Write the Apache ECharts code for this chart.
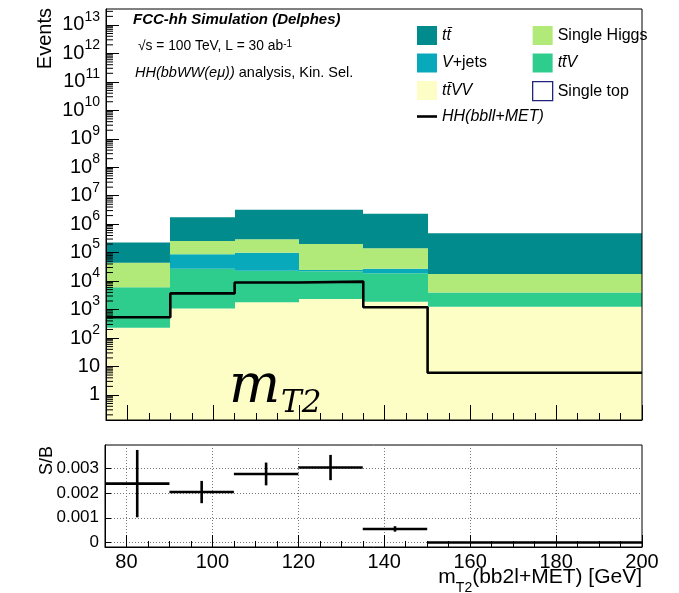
<!DOCTYPE html>
<html><head><meta charset="utf-8">
<script src="https://cdn.jsdelivr.net/npm/echarts@6.0.0/dist/echarts.min.js"></script>
<style>html,body{margin:0;padding:0;background:#fff}#c{width:679px;height:593px}</style>
</head><body><div id="c"></div>
<script>
// ---- data ----
const binEdges = [75, 90, 105, 120, 135, 150, 200];
// stacked backgrounds, bottom to top
const ttVV        = [230, 1100, 1800, 2350, 1900, 1260];
const ttV         = [5900, 25900, 21200, 19700, 17100, 2700];
const singleTop   = [0, 0, 0, 0, 0, 0];
const vJets       = [0, 61000, 77000, 2600, 8000, 0];
const singleHiggs = [38000, 169000, 196000, 175000, 115000, 13800];
const ttbar       = [181000, 1490000, 2900000, 3000000, 2160000, 462000];
const signal      = [540, 3700, 8900, 9600, 1200, 6];
// S/B ratio panel
const ratio    = [0.00238, 0.00204, 0.00277, 0.00303, 0.00055, 0.0];
const ratioErr = [0.00136, 0.00045, 0.00046, 0.00051, 0.00011, 0.0];
const yDecades = [-1,0,1,2,3,4,5,6,7,8,9,10,11,12,13];

const TT = 'tt\u0304';
const procNames  = [TT + 'VV', TT + 'V', 'Single top', 'V+jets', 'Single Higgs', TT];
const procValues = [ttVV, ttV, singleTop, vJets, singleHiggs, ttbar];
const procColors = ['#fdfdc6', '#2fcd8d', '#ffffff', '#07a9bb', '#b1ea78', '#028b8d'];
const Y_MIN = -0.88, Y_MAX = 13.56;
const FONT = 'Liberation Sans';

// cumulative stacking
const cum = binEdges.slice(0, -1).map(() => 0);
const procSeries = procNames.map((name, pi) => {
  const data = [];
  procValues[pi].forEach((v, i) => {
    const lo = cum[i];
    cum[i] += v;
    if (v > 0) data.push([binEdges[i], binEdges[i + 1], lo > 0 ? Math.log10(lo) : Y_MIN - 2, Math.log10(cum[i])]);
  });
  return {
    name, type: 'custom', xAxisIndex: 0, yAxisIndex: 0, clip: true, z: 1,
    itemStyle: { color: procColors[pi] },
    encode: { x: [0, 1], y: [2, 3] },
    renderItem(params, api) {
      const p0 = api.coord([api.value(0), api.value(3)]);
      const p1 = api.coord([api.value(1), api.value(2)]);
      const x0 = Math.round(p0[0]), x1 = Math.round(p1[0]);
      return { type: 'rect', shape: { x: x0, y: p0[1], width: x1 - x0, height: p1[1] - p0[1] }, style: { fill: procColors[pi] } };
    },
    data
  };
});

// signal step line
const sigData = [];
signal.forEach((v, i) => { sigData.push([binEdges[i], Math.log10(v)]); sigData.push([binEdges[i + 1], Math.log10(v)]); });

// minor log ticks
const minorTicks = [];
yDecades.forEach(n => { for (let k = 2; k <= 9; k++) { const y = n + Math.log10(k); if (y > Y_MIN && y < Y_MAX) minorTicks.push([binEdges[0], y]); } });

const ratioData = ratio.map((r, i) => [binEdges[i], binEdges[i + 1], (binEdges[i] + binEdges[i + 1]) / 2, r, ratioErr[i]]);

const supLabel = v => {
  if (Math.abs(v - Math.round(v)) > 1e-6) return '';
  const n = Math.round(v);
  if (n === 0) return '{b|1}';
  if (n === 1) return '{b|10}';
  return '{b|10}{s|' + n + '}';
};
const legendText = { fontSize: 16, fontFamily: FONT, color: '#000',
  rich: { i: { fontSize: 16, fontFamily: FONT, fontStyle: 'italic', color: '#000' } } };

const chart = echarts.init(document.getElementById('c'), null, { renderer: 'canvas' });
chart.setOption({
  animation: false,
  backgroundColor: '#fff',
  grid: [
    { left: 106, top: 9, width: 536, height: 411, show: true, borderColor: '#000', borderWidth: 1, backgroundColor: 'transparent', z: 8 },
    { left: 105, top: 445, width: 537, height: 102, show: true, borderColor: '#000', borderWidth: 1, backgroundColor: 'transparent' }
  ],
  xAxis: [
    { type: 'value', gridIndex: 0, min: 75, max: 200, minInterval: 20, maxInterval: 20, z: 10,
      axisLine: { show: true, onZero: false, lineStyle: { color: '#000' } },
      axisTick: { inside: true, length: 15, lineStyle: { color: '#000' } },
      minorTick: { show: true, splitNumber: 4, length: 7, lineStyle: { color: '#000' } },
      axisLabel: { show: false }, splitLine: { show: false } },
    { type: 'value', gridIndex: 1, min: 75, max: 200, minInterval: 20, maxInterval: 20,
      axisLine: { show: true, onZero: false, lineStyle: { color: '#000' } },
      axisTick: { inside: true, length: 12, lineStyle: { color: '#000' } },
      minorTick: { show: true, splitNumber: 4, length: 6, lineStyle: { color: '#000' } },
      axisLabel: { showMinLabel: false, margin: 5, fontSize: 20, fontFamily: FONT, color: '#000' },
      splitLine: { show: true, lineStyle: { color: '#777', type: [1, 2], width: 1 } } }
  ],
  yAxis: [
    { type: 'value', gridIndex: 0, min: Y_MIN, max: Y_MAX, minInterval: 1, maxInterval: 1, z: 10,
      axisLine: { show: true, onZero: false, lineStyle: { color: '#000' } },
      axisTick: { inside: true, length: 13, lineStyle: { color: '#000' } },
      axisLabel: { showMinLabel: false, showMaxLabel: false, margin: 6, formatter: supLabel, color: '#000',
        rich: { b: { fontSize: 20, fontFamily: FONT, lineHeight: 30, color: '#000' },
                s: { fontSize: 14, fontFamily: FONT, lineHeight: 14, verticalAlign: 'top', color: '#000' } } },
      splitLine: { show: false } },
    { type: 'value', gridIndex: 1, min: -0.00018, max: 0.00394, minInterval: 0.001, maxInterval: 0.001,
      axisLine: { show: true, onZero: false, lineStyle: { color: '#000' } },
      axisTick: { inside: true, length: 6, lineStyle: { color: '#000' } },
      axisLabel: { showMinLabel: false, showMaxLabel: false, margin: 6, fontSize: 17, fontFamily: FONT, color: '#000',
        formatter: v => Math.abs(v) < 1e-9 ? '0' : v.toFixed(3) },
      splitLine: { show: true, lineStyle: { color: '#777', type: [1, 2], width: 1 } } }
  ],
  legend: [
    { left: 417, top: 26, padding: 0, orient: 'vertical', itemWidth: 20, itemHeight: 19, itemGap: 8.5, selectedMode: false,
      textStyle: legendText,
      formatter: n => n === 'V+jets' ? '{i|V}+jets' : '{i|' + n + '}',
      data: [ { name: TT, icon: 'rect' }, { name: 'V+jets', icon: 'rect' }, { name: TT + 'VV', icon: 'rect' },
              { name: 'HH(bbll+MET)', icon: 'path://M0,0 L20,0 L20,2.6 L0,2.6 Z', itemStyle: { color: '#000' } } ] },
    { left: 532, top: 26, padding: 0, orient: 'vertical', itemWidth: 20, itemHeight: 19, itemGap: 8.5, selectedMode: false,
      textStyle: legendText,
      formatter: n => n === TT + 'V' ? '{i|' + n + '}' : n,
      data: [ { name: 'Single Higgs', icon: 'rect' }, { name: TT + 'V', icon: 'rect' },
              { name: 'Single top', icon: 'rect', itemStyle: { color: '#ffffff', borderColor: '#23237d', borderWidth: 1.3 } } ] }
  ],
  series: [
    ...procSeries,
    { name: 'HH(bbll+MET)', type: 'line', xAxisIndex: 0, yAxisIndex: 0, data: sigData, symbol: 'none',
      itemStyle: { color: '#000' }, lineStyle: { color: '#000', width: 2.6 }, z: 5 },
    { name: 'minorTicks', type: 'custom', xAxisIndex: 0, yAxisIndex: 0, data: minorTicks, silent: true, z: 6,
      encode: { x: 0, y: 1 },
      renderItem(params, api) {
        const p = api.coord([api.value(0), api.value(1)]);
        return { type: 'line', shape: { x1: p[0], y1: p[1], x2: p[0] + 7, y2: p[1] }, style: { stroke: '#000', lineWidth: 1 } };
      } },
    { name: 'S/B', type: 'custom', xAxisIndex: 1, yAxisIndex: 1, data: ratioData, z: 5,
      encode: { x: [0, 1], y: 3 },
      renderItem(params, api) {
        const x0 = api.value(0), x1 = api.value(1), xc = api.value(2), v = api.value(3), e = api.value(4);
        const a = api.coord([x0, v]), b = api.coord([x1, v]);
        const c = api.coord([xc, v + e]), d = api.coord([xc, v - e]);
        return { type: 'group', children: [
          { type: 'line', shape: { x1: a[0], y1: a[1], x2: b[0], y2: b[1] }, style: { stroke: '#000', lineWidth: 2.6 } },
          { type: 'line', shape: { x1: c[0], y1: c[1], x2: d[0], y2: d[1] }, style: { stroke: '#000', lineWidth: 2.6 } }
        ] };
      } }
  ],
  graphic: [
    { type: 'text', left: 133, top: 12, style: { text: 'FCC-hh Simulation (Delphes)', font: 'italic bold 15px "Liberation Sans"', fill: '#000' } },
    { type: 'text', left: 138, top: 39, style: { text: '\u221As = 100 TeV, L = 30 ab{s|-1}', fill: '#000', font: '13.8px "Liberation Sans"',
        rich: { s: { fontSize: 10, fontFamily: FONT, verticalAlign: 'top', lineHeight: 10 } } } },
    { type: 'text', left: 135, top: 65, style: { text: '{i|HH(bbWW(e\u03BC))} analysis, Kin. Sel.', fill: '#000', font: '14.5px "Liberation Sans"',
        rich: { i: { fontSize: 14.5, fontFamily: FONT, fontStyle: 'italic' } } } },
    { type: 'text', x: 45, y: 8, rotation: Math.PI / 2, style: { text: 'Events', font: '20px "Liberation Sans"', fill: '#000', align: 'right', verticalAlign: 'middle' } },
    { type: 'text', x: 47, y: 446, rotation: Math.PI / 2, style: { text: 'S/B', font: '18px "Liberation Sans"', fill: '#000', align: 'right', verticalAlign: 'middle' } },
    { type: 'text', right: 37, top: 567, style: { text: '{n|m}{s|T2}{n|(bb2l+MET) [GeV]}', fill: '#000',
        rich: { n: { fontSize: 21, fontFamily: FONT, lineHeight: 28, verticalAlign: 'top' },
                s: { fontSize: 14, fontFamily: FONT, lineHeight: 14, verticalAlign: 'bottom' } } } },
    { type: 'text', x: 229, y: 388, z: 10, style: { text: 'm', font: 'italic 54px "DejaVu Serif"', fill: '#000', verticalAlign: 'middle' } },
    { type: 'text', x: 281, y: 404, z: 10, style: { text: 'T2', font: 'italic 31px "DejaVu Serif"', fill: '#000', verticalAlign: 'middle' } }
  ]
});
</script>
</body></html>
